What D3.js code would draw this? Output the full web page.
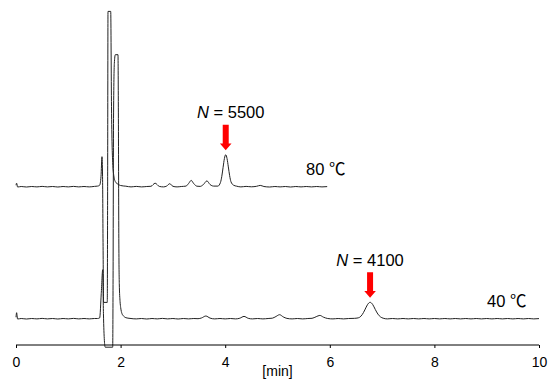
<!DOCTYPE html>
<html>
<head>
<meta charset="utf-8">
<script src="https://cdn.jsdelivr.net/npm/d3@7"></script>
<style>
  body { margin: 0; background: #fff; }
  svg { display: block; font-family: "Liberation Sans", Arial, "Noto Sans CJK JP", sans-serif; }
</style>
</head>
<body>
<svg id="chart"></svg>
<script>
var width = 555;
var height = 391;

// x axis ticks [min]
var xTicks = [0, 2, 4, 6, 8, 10];

// baseline offsets of the two traces (signal units)
var offsets = {t80: 158.3, t40: 26.3};

// 80 °C chromatogram: [time (min), signal]
var trace80 = [
    [0.000, 1.5], [0.012, 3.5], [0.030, -0.3], [0.10, 0.2], [0.20, -0.3], [0.30, 0.2], [0.40, -0.2],
    [0.50, 0.3], [0.60, -0.2], [0.70, 0.2], [0.80, -0.3], [0.90, 0.2], [1.00, -0.2], [1.10, 0.3],
    [1.20, -0.2], [1.30, 0.2], [1.40, -0.2], [1.50, 0.3], [1.56, 0.6], [1.60, 1.5], [1.625, 10],
    [1.644, 30], [1.655, 10], [1.665, -60], [1.675, -115.7], [1.745, -115.7], [1.752, 0],
    [1.759, 175.3], [1.811, 175.3], [1.826, 80], [1.849, 24], [1.87, 11], [1.90, 5], [1.95, 2.5],
    [2.00, 1.2], [2.10, 0.5], [2.20, -0.2], [2.30, 0.3], [2.40, -0.2], [2.50, 0.2], [2.58, 0.4],
    [2.66, 3.5], [2.74, 0.3], [2.82, -0.2], [2.88, 0.6], [2.94, 3], [3.00, 0.4], [3.08, -0.2],
    [3.16, 0.2], [3.25, 0.6], [3.30, 3.2], [3.35, 6.3], [3.40, 3], [3.46, 0.5], [3.52, 0.3],
    [3.58, 2], [3.65, 5.8], [3.71, 2.2], [3.78, 0.6], [3.86, 0.6], [3.91, 4.3], [3.935, 10.4],
    [3.96, 19.4], [3.985, 28.2], [4.01, 32], [4.035, 28.2], [4.06, 19.8], [4.085, 11], [4.11, 5],
    [4.16, 1.5], [4.22, 0.5], [4.30, -0.2], [4.40, 0.3], [4.50, -0.1], [4.60, 0.4], [4.67, 1.3],
    [4.74, 0.2], [4.85, -0.3], [4.95, 0.2], [5.05, -0.2], [5.15, 0.2], [5.25, -0.3], [5.35, 0.2],
    [5.45, -0.2], [5.55, 0.2], [5.65, -0.2], [5.75, 0.2], [5.85, -0.2], [5.95, 0.1]
];

// 40 °C chromatogram: [time (min), signal]
var trace40 = [
    [0.000, 1.5], [0.012, 6], [0.030, -0.3], [0.10, 0.2], [0.20, -0.3], [0.30, 0.2], [0.40, -0.2],
    [0.50, 0.3], [0.60, -0.2], [0.70, 0.2], [0.80, -0.3], [0.90, 0.2], [1.00, -0.2], [1.10, 0.3],
    [1.20, -0.2], [1.30, 0.2], [1.40, -0.2], [1.50, 0.2], [1.56, 0.2], [1.60, 0.8], [1.63, 25],
    [1.658, 49], [1.672, 5], [1.69, -22], [1.705, -28.5], [1.849, -28.5], [1.856, 40], [1.865, 200],
    [1.88, 255], [1.899, 264], [1.950, 264], [1.958, 200], [1.966, 80], [1.975, 35], [1.99, 17],
    [2.002, 11], [2.027, 5], [2.06, 2.5], [2.10, 1], [2.18, 0.3], [2.30, -0.2], [2.40, 0.2],
    [2.50, -0.3], [2.60, 0.2], [2.70, -0.2], [2.80, 0.3], [2.90, -0.2], [3.00, 0.2], [3.10, -0.3],
    [3.20, 0.2], [3.30, -0.2], [3.40, 0.2], [3.48, 0], [3.55, 0.8], [3.63, 2.7], [3.71, 0.6],
    [3.80, -0.2], [3.90, 0.2], [4.00, -0.2], [4.10, 0.2], [4.20, -0.2], [4.28, 0.5], [4.36, 2.3],
    [4.44, 0.4], [4.52, -0.2], [4.62, 0.2], [4.72, -0.2], [4.82, 0.2], [4.90, 0.5], [4.97, 2.2],
    [5.04, 4], [5.11, 1.8], [5.18, 0.3], [5.28, -0.2], [5.38, 0.2], [5.48, -0.2], [5.58, 0.2],
    [5.66, 0.4], [5.74, 2], [5.81, 3.3], [5.88, 1.5], [5.96, 0.2], [6.06, -0.2], [6.16, 0.2],
    [6.26, -0.2], [6.36, 0.2], [6.47, 0.35], [6.52, 0.6], [6.57, 1.4], [6.62, 4.1], [6.67, 8.8],
    [6.72, 14], [6.77, 16.4], [6.82, 14.2], [6.87, 9.2], [6.92, 4.6], [6.97, 1.8], [7.02, 0.5],
    [7.10, -0.2], [7.20, 0.2], [7.30, -0.2], [7.40, 0.2], [7.50, -0.2], [7.60, 0.2], [7.70, -0.2],
    [7.80, 0.2], [7.90, -0.2], [8.00, 0.2], [8.10, -0.2], [8.20, 0.2], [8.30, -0.2], [8.40, 0.2],
    [8.50, -0.2], [8.60, 0.2], [8.70, -0.2], [8.80, 0.2], [8.90, -0.2], [9.00, 0.2], [9.10, -0.2],
    [9.20, 0.2], [9.30, -0.2], [9.40, 0.2], [9.50, -0.2], [9.60, 0.2], [9.70, -0.2], [9.80, 0.2],
    [9.90, -0.2], [10.00, 0.1]
];

// annotated peaks: time, height above baseline, plate number
var peaks = [
    {trace: "t80", time: 4.01, value: 32, plates: "5500"},
    {trace: "t40", time: 6.77, value: 16.4, plates: "4100"}
];
var tempLabels = [
    {trace: "t80", text: "80 \u2103", end: 6.3},
    {trace: "t40", text: "40 \u2103", end: 9.76}
];

var svg = d3.select("#chart")
    .attr("width", width)
    .attr("height", height);

var x = d3.scaleLinear().domain([0, 10]).range([16, 539]);
var y = d3.scaleLinear().domain([0, 345]).range([345, 0]);

var line = d3.line()
    .x(d => x(d[0]))
    .curve(d3.curveMonotoneX);

// traces
[["t80", trace80], ["t40", trace40]].forEach(function (tr) {
    let off = offsets[tr[0]];
    svg.append("path")
        .attr("d", line.y(d => y(d[1] + off))(tr[1]))
        .attr("fill", "none")
        .attr("stroke", "#222")
        .attr("stroke-width", 1);
});

// x axis
let axis = svg.append("g")
    .attr("transform", "translate(0," + y(0) + ")")
    .call(d3.axisBottom(x).tickValues(xTicks).tickSize(3).tickPadding(9).tickFormat(d3.format("d")));
axis.select(".domain").attr("stroke", "#000").attr("d", "M" + x(0) + ",0H" + x(10));
axis.selectAll(".tick line").attr("stroke", "#000");
axis.selectAll(".tick text")
    .attr("font-size", 14)
    .attr("font-family", "Liberation Sans, Arial, sans-serif")
    .attr("fill", "#000");

svg.append("text")
    .attr("x", x(5))
    .attr("y", 376)
    .attr("text-anchor", "middle")
    .attr("font-size", 14)
    .text("[min]");

// arrows and plate-number labels
peaks.forEach(function (p) {
    let cx = x(p.time);
    let tip = y(p.value + offsets[p.trace]) - 4.5;
    svg.append("path")
        .attr("d", "M" + (cx - 3) + "," + (tip - 25.5) + "H" + (cx + 3) + "V" + (tip - 6.8) +
            "H" + (cx + 5.8) + "L" + cx + "," + tip + "L" + (cx - 5.8) + "," + (tip - 6.8) +
            "H" + (cx - 3) + "Z")
        .attr("fill", "#ff0000");
    let t = svg.append("text")
        .attr("x", p.trace === "t80" ? cx + 5 : cx)
        .attr("y", tip - 32)
        .attr("text-anchor", "middle")
        .attr("font-size", 16.5);
    t.append("tspan").attr("font-style", "italic").text("N");
    t.append("tspan").text(" = " + p.plates);
});

// temperature labels
tempLabels.forEach(function (l) {
    svg.append("text")
        .attr("x", x(l.end))
        .attr("y", y(offsets[l.trace] + 12))
        .attr("text-anchor", "end")
        .attr("font-size", 16.5)
        .text(l.text);
});
</script>
</body>
</html>
